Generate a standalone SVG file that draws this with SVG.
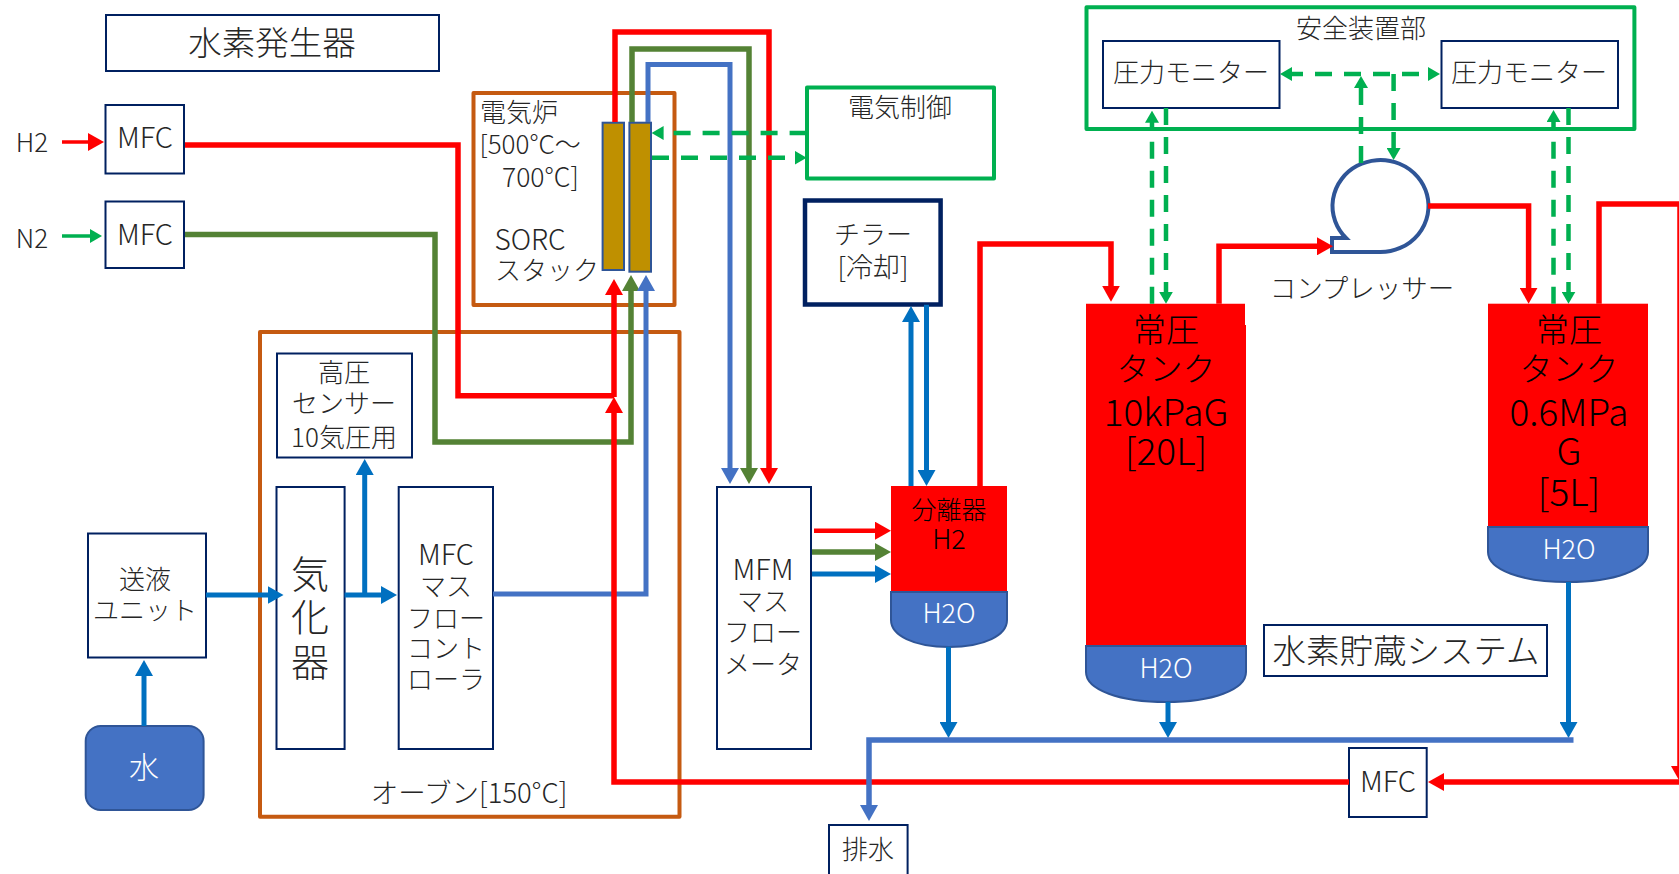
<svg xmlns="http://www.w3.org/2000/svg" width="1679" height="874" viewBox="0 0 1679 874">
<style>
text{font-family:"Noto Sans CJK JP","Noto Sans",sans-serif;font-weight:300;fill:#262626;text-anchor:middle;dominant-baseline:central;font-size:26px;transform:translateY(-2px)}
.l{text-anchor:start}
.w{fill:#fff}
.k{fill:#000}
.lat{font-size:29px}
.big{font-size:33px}
.bigl{font-size:37px}
.b{fill:#fff;stroke:#002060;stroke-width:2}
.brown{fill:none;stroke:#c55a11;stroke-width:4;stroke-linejoin:round}
.grn{fill:#fff;stroke:#00b050;stroke-width:4;stroke-linejoin:round}
.stack{fill:#bf9000;stroke:#2f5597;stroke-width:2}
.gas{fill:#f00}
.liq{fill:#4472c4;stroke:#2f5597;stroke-width:2}
#connectors path{fill:none;stroke-linejoin:miter}
.r{stroke:#f00;stroke-width:5.5}
.g{stroke:#548235;stroke-width:5.5}
.bl{stroke:#4472c4;stroke-width:5}
.c{stroke:#0070c0;stroke-width:5}
.d{stroke:#00b050;stroke-width:4.5;stroke-dasharray:17 12}
</style>
<defs>
<marker id="mr" markerUnits="userSpaceOnUse" markerWidth="16" markerHeight="18" viewBox="0 0 16 18" refX="8" refY="9" orient="auto"><path d="M0,0L16,9L0,18Z" fill="#f00"/></marker>
<marker id="mg" markerUnits="userSpaceOnUse" markerWidth="16" markerHeight="18" viewBox="0 0 16 18" refX="8" refY="9" orient="auto"><path d="M0,0L16,9L0,18Z" fill="#548235"/></marker>
<marker id="mb" markerUnits="userSpaceOnUse" markerWidth="16" markerHeight="18" viewBox="0 0 16 18" refX="8" refY="9" orient="auto"><path d="M0,0L16,9L0,18Z" fill="#4472c4"/></marker>
<marker id="mc" markerUnits="userSpaceOnUse" markerWidth="16" markerHeight="18" viewBox="0 0 16 18" refX="8" refY="9" orient="auto"><path d="M0,0L16,9L0,18Z" fill="#0070c0"/></marker>
<marker id="md" markerUnits="userSpaceOnUse" markerWidth="12" markerHeight="14" viewBox="0 0 12 14" refX="6" refY="7" orient="auto"><path d="M0,0L12,7L0,14Z" fill="#00b050"/></marker>
<marker id="mds" markerUnits="userSpaceOnUse" markerWidth="12" markerHeight="14" viewBox="0 0 12 14" refX="6" refY="7" orient="auto-start-reverse"><path d="M0,0L12,7L0,14Z" fill="#00b050"/></marker>
</defs>

<g id="title"><rect class="b" x="106" y="15" width="333" height="56"/><text x="272" y="42" style="font-size:33.5px">水素発生器</text></g>
<g id="h2-label"><text x="32" y="142">H2</text></g>
<g id="n2-label"><text x="32" y="238">N2</text></g>
<g id="mfc-h2"><rect class="b" x="105.5" y="105" width="78.5" height="68.5"/><text class="lat" x="145" y="137">MFC</text></g>
<g id="mfc-n2"><rect class="b" x="105.5" y="201.5" width="78.5" height="66.5"/><text class="lat" x="145" y="234">MFC</text></g>

<g id="furnace"><rect class="brown" x="473.5" y="93" width="201" height="212"/>
<text class="l" x="480" y="112">電気炉</text><text class="l" x="479.5" y="144">[500°C～</text><text class="l" x="502" y="177" style="font-size:26.5px">700°C]</text><text class="l" x="494.5" y="240" style="font-size:28px">SORC</text><text class="l" x="495" y="270">スタック</text></g>
<g id="stack-1"><rect class="stack" x="602.6" y="122.7" width="21.4" height="147.3"/></g>
<g id="stack-2"><rect class="stack" x="629.4" y="122.7" width="21.6" height="149"/></g>

<g id="electric"><rect class="grn" x="807" y="87.5" width="187" height="91"/><text x="900" y="107">電気制御</text></g>
<g id="chiller"><rect x="805" y="200.5" width="135.6" height="104" fill="#fff" stroke="#002060" stroke-width="4.5"/><text x="873" y="234">チラー</text><text x="873" y="267" style="font-size:27px">[冷却]</text></g>

<g id="oven"><rect class="brown" x="260" y="332" width="419.5" height="484.7"/><text x="469" y="793" style="font-size:27.5px">オーブン[150°C]</text></g>
<g id="hp-sensor"><rect class="b" x="277" y="353.5" width="135" height="104"/><text x="344" y="372">高圧</text><text x="344" y="403">センサー</text><text x="344" y="437">10気圧用</text></g>
<g id="vaporizer"><rect class="b" x="276.5" y="487" width="68.1" height="262"/><text x="310" y="573" style="font-size:38px">気</text><text x="310" y="616" style="font-size:38px">化</text><text x="310" y="661" style="font-size:38px">器</text></g>
<g id="mfc-tall"><rect class="b" x="398.7" y="487" width="94.3" height="262"/><text class="lat" x="446" y="554">MFC</text><text x="446" y="586">マス</text><text x="446" y="618">フロー</text><text x="446" y="648">コント</text><text x="446" y="679">ローラ</text></g>
<g id="pump"><rect class="b" x="88" y="533.5" width="118" height="124"/><text x="145" y="579">送液</text><text x="145" y="610">ユニット</text></g>
<g id="water"><rect class="liq" x="85.7" y="726" width="117.9" height="84" rx="15"/><text class="w" x="144" y="767" style="font-size:30px">水</text></g>
<g id="mfm"><rect class="b" x="717" y="487" width="94" height="262"/><text class="lat" x="763" y="569">MFM</text><text x="763" y="601">マス</text><text x="763" y="632">フロー</text><text x="763" y="664">メータ</text></g>

<g id="separator"><rect class="gas" x="891" y="486" width="116" height="106"/><path class="liq" d="M891,592H1007V620C1007,635 985,647 949,647C913,647 891,635 891,620Z"/>
<text class="k" x="949" y="510" style="font-size:25px">分離器</text><text class="k" x="949" y="539" style="font-size:27px">H2</text><text class="w" x="949" y="613.6" style="font-size:27px">H2O</text></g>
<g id="tank-1"><path class="gas" d="M1086,303.7H1245V325H1246V646H1086Z"/><path class="liq" d="M1086,646H1246V672C1246,690 1212,702 1166,702C1120,702 1086,690 1086,672Z"/>
<text class="k big" x="1166" y="330">常圧</text><text class="k big" x="1166" y="369">タンク</text><text class="k bigl" x="1166" y="412">10kPaG</text><text class="k bigl" x="1166" y="451">[20L]</text><text class="w" x="1166" y="668" style="font-size:27px">H2O</text></g>
<g id="tank-2"><rect class="gas" x="1488" y="303.7" width="160" height="223"/><path class="liq" d="M1488,527H1648V552C1648,570 1614,582 1568,582C1522,582 1488,570 1488,552Z"/>
<text class="k big" x="1569" y="330">常圧</text><text class="k big" x="1569" y="369">タンク</text><text class="k bigl" x="1569" y="412">0.6MPa</text><text class="k bigl" x="1569" y="451">G</text><text class="k bigl" x="1569" y="491.5">[5L]</text><text class="w" x="1569" y="549" style="font-size:27px">H2O</text></g>
<g id="storage-label"><rect class="b" x="1264" y="625" width="283" height="51"/><text x="1406" y="650" style="font-size:33.5px">水素貯蔵システム</text></g>

<g id="safety"><rect class="grn" x="1086.5" y="7.3" width="547.9" height="121.7"/><text x="1361" y="28">安全装置部</text></g>
<g id="pm-left"><rect class="b" x="1103" y="41" width="176.5" height="67"/><text x="1191" y="72">圧力モニター</text></g>
<g id="pm-right"><rect class="b" x="1441.5" y="41" width="176.5" height="67"/><text x="1529" y="72">圧力モニター</text></g>
<g id="compressor"><path d="M1332,252H1380A48,46 0 1,0 1346,238H1332Z" fill="#fff" stroke="#2f5597" stroke-width="4"/><text x="1362" y="288" style="font-size:26.5px">コンプレッサー</text></g>
<g id="mfc-return"><rect class="b" x="1349" y="748" width="77.7" height="69"/><text class="lat" x="1388" y="781">MFC</text></g>
<g id="drain"><rect class="b" x="829" y="825" width="78.6" height="56"/><text x="868" y="849">排水</text></g>

<g id="connectors">
<path class="r" style="stroke-width:3.5" d="M62,142H96" marker-end="url(#mr)"/>
<path class="d" style="stroke-dasharray:none;stroke-width:3.5" d="M62,236H96" marker-end="url(#md)"/>
<path class="r" d="M185,145H458V395.7H614"/>
<path class="g" d="M185,234.5H435V442H631V283" marker-end="url(#mg)"/>
<path class="bl" d="M493,594H646V283" marker-end="url(#mb)"/>
<path class="r" d="M1349,782H614V405" marker-end="url(#mr)"/>
<path class="r" d="M614,397V287" marker-end="url(#mr)"/>
<path class="r" d="M615,122V32H769V476" marker-end="url(#mr)"/>
<path class="g" d="M632,122V49H749V476" marker-end="url(#mg)"/>
<path class="bl" d="M648,122V64.5H730V476" marker-end="url(#mb)"/>
<path class="d" d="M806.6,133H657.6" marker-end="url(#md)"/>
<path class="d" d="M652,157.7H800.6" marker-end="url(#md)"/>
<path class="c" d="M144,726V668" marker-end="url(#mc)"/>
<path class="c" d="M206,595H275.5" marker-end="url(#mc)"/>
<path class="c" d="M344.6,595H389" marker-end="url(#mc)"/>
<path class="c" d="M364.7,595V467" marker-end="url(#mc)"/>
<path class="c" d="M911,486V314" marker-end="url(#mc)"/>
<path class="c" d="M926.5,304.7V478" marker-end="url(#mc)"/>
<path class="r" style="stroke-width:4.5" d="M814,530.7H883" marker-end="url(#mr)"/>
<path class="g" d="M812,552H883" marker-end="url(#mg)"/>
<path class="c" d="M812,574H883" marker-end="url(#mc)"/>
<path class="r" d="M980,486V244H1111V293.7" marker-end="url(#mr)"/>
<path class="r" d="M1219,303.7V246.3H1325" marker-end="url(#mr)"/>
<path class="r" d="M1428,206H1528.6V295.7" marker-end="url(#mr)"/>
<path class="r" d="M1599,303.7V204H1680V774" marker-end="url(#mr)"/>
<path class="r" d="M1680,782H1436" marker-end="url(#mr)"/>
<path class="d" d="M1152,303.7V116.7" marker-end="url(#md)"/>
<path class="d" d="M1166,108V297.7" marker-end="url(#md)"/>
<path class="d" d="M1553.5,303.7V116" marker-end="url(#md)"/>
<path class="d" d="M1568.5,108V297.7" marker-end="url(#md)"/>
<path class="d" d="M1286,74H1434" marker-start="url(#mds)" marker-end="url(#mds)"/>
<path class="d" d="M1361,163V82" marker-end="url(#md)"/>
<path class="d" d="M1393.6,74V154" marker-end="url(#md)"/>
<path class="c" d="M948.5,646.7V730" marker-end="url(#mc)"/>
<path class="c" d="M1168,701.7V730" marker-end="url(#mc)"/>
<path class="c" d="M1568.5,582V730" marker-end="url(#mc)"/>
<path class="bl" style="stroke-width:5.5" d="M1573.5,740H869V813" marker-end="url(#mb)"/>
</g>
</svg>
